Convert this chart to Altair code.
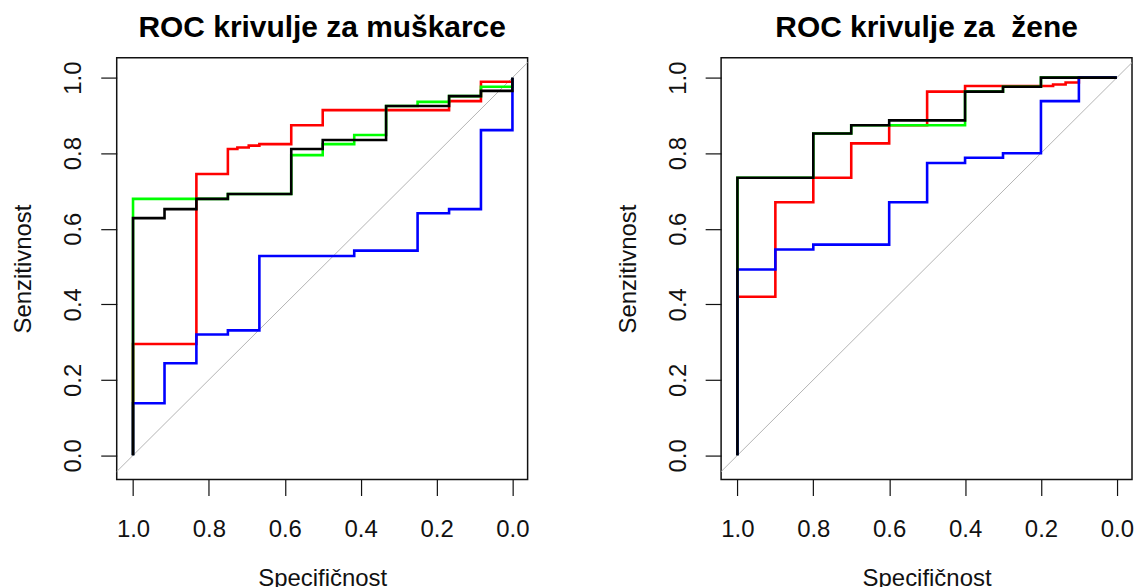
import altair as alt
import pandas as pd

# ---------------- Men (muškarci) ----------------
m_red_spec = [1.0, 1.0, 0.833, 0.833, 0.75, 0.75, 0.725, 0.725, 0.695, 0.695, 0.667, 0.667,
              0.583, 0.583, 0.5, 0.5, 0.167, 0.167, 0.083, 0.083, 0.0, 0.0]
m_red_sens = [0.0, 0.295, 0.295, 0.745, 0.745, 0.811, 0.811, 0.815, 0.815, 0.82, 0.82, 0.824,
              0.824, 0.874, 0.874, 0.914, 0.914, 0.938, 0.938, 0.989, 0.989, 1.0]

m_green_spec = [1.0, 1.0, 0.833, 0.75, 0.75, 0.583, 0.583, 0.5, 0.5, 0.417, 0.417, 0.333, 0.333,
                0.25, 0.25, 0.167, 0.167, 0.083, 0.083, 0.0, 0.0]
m_green_sens = [0.0, 0.679, 0.679, 0.679, 0.692, 0.692, 0.795, 0.795, 0.824, 0.824, 0.848, 0.848, 0.925,
                0.925, 0.936, 0.936, 0.951, 0.951, 0.976, 0.976, 1.0]

m_blue_spec = [1.0, 1.0, 0.917, 0.917, 0.833, 0.833, 0.75, 0.75, 0.667, 0.667, 0.417, 0.417,
               0.25, 0.25, 0.167, 0.167, 0.083, 0.083, 0.0, 0.0]
m_blue_sens = [0.0, 0.138, 0.138, 0.244, 0.244, 0.32, 0.32, 0.331, 0.331, 0.528, 0.528, 0.542,
               0.542, 0.641, 0.641, 0.652, 0.652, 0.861, 0.861, 1.0]

m_black_spec = [1.0, 1.0, 0.917, 0.917, 0.833, 0.833, 0.75, 0.75, 0.583, 0.583, 0.5, 0.5,
                0.333, 0.333, 0.167, 0.167, 0.083, 0.083, 0.0, 0.0]
m_black_sens = [0.0, 0.628, 0.628, 0.652, 0.652, 0.679, 0.679, 0.692, 0.692, 0.811, 0.811, 0.835,
                0.835, 0.925, 0.925, 0.951, 0.951, 0.965, 0.965, 1.0]

# ---------------- Women (žene) ----------------
w_red_spec = [1.0, 1.0, 0.9, 0.9, 0.8, 0.8, 0.7, 0.7, 0.6, 0.6, 0.5, 0.5, 0.4, 0.4,
              0.168, 0.168, 0.135, 0.135, 0.1, 0.1, 0.0]
w_red_sens = [0.0, 0.42, 0.42, 0.67, 0.67, 0.735, 0.735, 0.826, 0.826, 0.874, 0.874, 0.963, 0.963, 0.978,
              0.978, 0.982, 0.982, 0.987, 0.987, 1.0, 1.0]

w_green_spec = [1.0, 1.0, 0.8, 0.8, 0.7, 0.7, 0.4, 0.4, 0.3, 0.3, 0.2, 0.2, 0.0]
w_green_sens = [0.0, 0.735, 0.735, 0.852, 0.852, 0.874, 0.874, 0.963, 0.963, 0.976, 0.976, 1.0, 1.0]

w_blue_spec = [1.0, 1.0, 0.9, 0.9, 0.8, 0.8, 0.6, 0.6, 0.5, 0.5, 0.4, 0.4, 0.3, 0.3,
               0.2, 0.2, 0.1, 0.1, 0.0]
w_blue_sens = [0.0, 0.492, 0.492, 0.545, 0.545, 0.558, 0.558, 0.67, 0.67, 0.774, 0.774, 0.788, 0.788, 0.80,
               0.80, 0.938, 0.938, 1.0, 1.0]

w_black_spec = [1.0, 1.0, 0.8, 0.8, 0.7, 0.7, 0.6, 0.6, 0.4, 0.4, 0.3, 0.3, 0.2, 0.2, 0.0]
w_black_sens = [0.0, 0.735, 0.735, 0.852, 0.852, 0.874, 0.874, 0.887, 0.887, 0.963, 0.963, 0.976, 0.976, 1.0, 1.0]

# identity (chance) line, clipped to the plot box
diag_spec = [1.1, -0.1]
diag_sens = [-0.1, 1.1]

tick_vals = [0.0, 0.2, 0.4, 0.6, 0.8, 1.0]
X_DOM = [-0.04, 1.043]
Y_DOM = [-0.064, 1.053]
FONT = "Liberation Sans"


def df(spec, sens):
    return pd.DataFrame({"spec": spec, "sens": sens, "i": list(range(len(spec)))})


def enc():
    x = alt.X("spec:Q",
              scale=alt.Scale(domain=X_DOM, reverse=True, nice=False, zero=False),
              axis=alt.Axis(values=tick_vals, format=".1f", title="Specifičnost",
                            labelPadding=22, titleY=106, titleBaseline="alphabetic"))
    y = alt.Y("sens:Q",
              scale=alt.Scale(domain=Y_DOM, nice=False, zero=False),
              axis=alt.Axis(values=tick_vals, format=".1f", title="Senzitivnost",
                            labelAngle=270, labelAlign="center", labelBaseline="alphabetic",
                            labelPadding=20, titleX=-93, titleBaseline="middle"))
    return x, y


def panel(title, curves):
    x, y = enc()
    layers = [
        alt.Chart(df(diag_spec, diag_sens)).mark_line(color="#b4b4b4", strokeWidth=1, clip=True)
        .encode(x=x, y=y, order="i:Q")
    ]
    for (spec, sens, col) in curves:
        layers.append(
            alt.Chart(df(spec, sens)).mark_line(color=col, strokeWidth=2.6, clip=True)
            .encode(x=x, y=y, order="i:Q")
        )
    return alt.layer(*layers).properties(
        width=412, height=423,
        title=alt.TitleParams(title, fontSize=30, font=FONT, fontWeight="bold",
                              anchor="middle", baseline="alphabetic", offset=-9, color="black"),
    )


left = panel("ROC krivulje za muškarce", [
    (m_red_spec, m_red_sens, "#ff0000"),
    (m_green_spec, m_green_sens, "#00ff00"),
    (m_blue_spec, m_blue_sens, "#0000ff"),
    (m_black_spec, m_black_sens, "#000000"),
])
right = panel("ROC krivulje za\u00a0 žene", [
    (w_red_spec, w_red_sens, "#ff0000"),
    (w_green_spec, w_green_sens, "#00ff00"),
    (w_blue_spec, w_blue_sens, "#0000ff"),
    (w_black_spec, w_black_sens, "#000000"),
])

chart = alt.hconcat(left, right, spacing=85).properties(
    padding={"left": 3, "top": 3, "right": 0, "bottom": 0}
).configure_view(
    stroke="#111111", strokeWidth=1.5
).configure_axis(
    domain=False, grid=False, ticks=True, tickSize=16, tickWidth=1.2, tickColor="#111111",
    labelFont=FONT, labelFontSize=24, labelColor="#111111",
    titleFont=FONT, titleFontSize=24, titleFontWeight="normal", titleColor="#111111",
    labelFlush=False, labelOverlap=False,
)

chart.save("out.html", embed_options={"renderer": "svg", "actions": False})
